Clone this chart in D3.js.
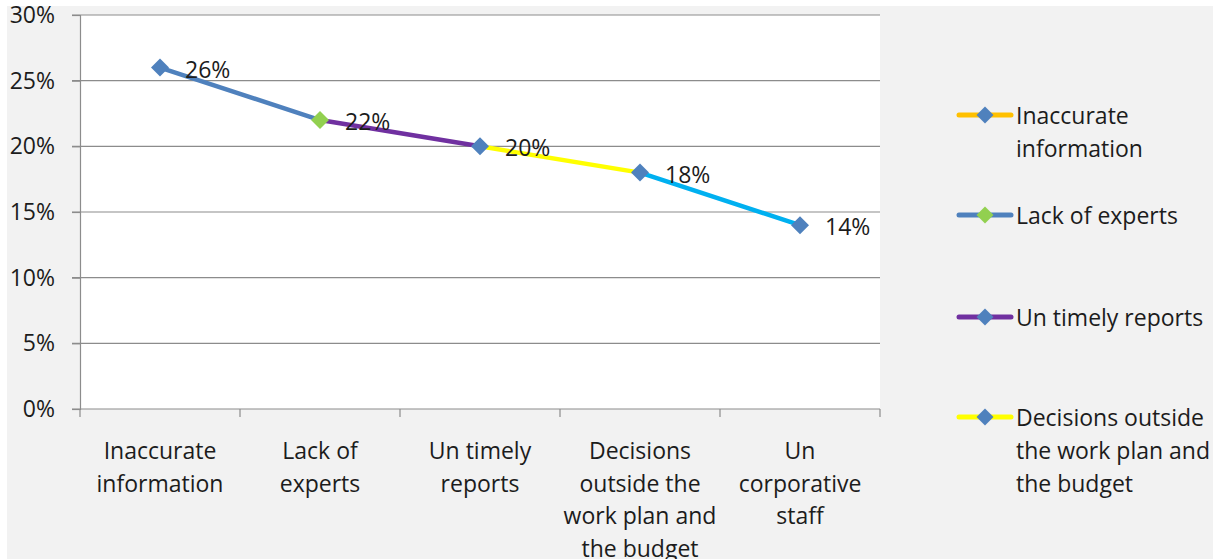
<!DOCTYPE html>
<html>
<head>
<meta charset="utf-8">
<script src="https://cdn.jsdelivr.net/npm/d3@7"></script>
<style>
  html, body { margin: 0; padding: 0; background: #ffffff; }
  svg { display: block; }
  text { font-family: "Open Sans", "Noto Sans", sans-serif; fill: #1c1c1c; }
</style>
</head>
<body>
<svg id="chart" width="1220" height="559"></svg>
<script>
// Problem categories (line breaks mark where the axis label wraps)
const categories = [
  "Inaccurate\ninformation",
  "Lack of\nexperts",
  "Un timely\nreports",
  "Decisions\noutside the\nwork plan and\nthe budget",
  "Un\ncorporative\nstaff"
];
// Share of respondents per problem
const values = [0.26, 0.22, 0.20, 0.18, 0.14];
// Colour of the line segment that starts at each point
const segmentColors = ["#4f81bd", "#7030a0", "#ffff00", "#00b0f0"];
// Marker fill per point
const markerColors = ["#4f81bd", "#92d050", "#4f81bd", "#4f81bd", "#4f81bd"];
// Y axis ticks
const yTicks = [0, 0.05, 0.10, 0.15, 0.20, 0.25, 0.30];

// Legend entries
const legendLabels = [
  "Inaccurate\ninformation",
  "Lack of experts",
  "Un timely reports",
  "Decisions outside\nthe work plan and\nthe budget"
];
const legendLineColors = ["#ffc000", "#4f81bd", "#7030a0", "#ffff00"];
const legendMarkerColors = ["#4f81bd", "#92d050", "#4f81bd", "#4f81bd"];

const FS = 23;
const svg = d3.select("#chart");

// Chart background panel
svg.append("rect").attr("x", 7).attr("y", 6).attr("width", 1206).attr("height", 553)
  .attr("fill", "#f2f2f2");

const plot = { left: 80, right: 880, top: 15, bottom: 409 };

svg.append("rect")
  .attr("x", plot.left).attr("y", plot.top)
  .attr("width", plot.right - plot.left).attr("height", plot.bottom - plot.top)
  .attr("fill", "#ffffff");

const x = d3.scaleBand().domain(categories).range([plot.left, plot.right]).padding(0);
const y = d3.scaleLinear().domain([0, 0.30]).range([plot.bottom, plot.top]);
const fmt = d3.format(".0%");

// Horizontal gridlines
svg.append("g").selectAll("line").data(yTicks.filter(d => d > 0)).join("line")
  .attr("x1", plot.left - 8).attr("x2", plot.right)
  .attr("y1", d => y(d)).attr("y2", d => y(d))
  .attr("stroke", "#8c8c8c").attr("stroke-width", 1.2);

// Y axis
const yAxis = d3.axisLeft(y).tickValues(yTicks).tickFormat(fmt).tickSize(8);
const yg = svg.append("g").attr("transform", `translate(${plot.left},0)`).call(yAxis);
yg.select(".domain").attr("stroke", "#8c8c8c").attr("stroke-width", 1.2);
yg.selectAll(".tick line").attr("stroke", "#8c8c8c").attr("stroke-width", 1.2);
yg.selectAll(".tick text").attr("font-size", FS).attr("fill", "#1c1c1c")
  .attr("font-family", "Open Sans, sans-serif").attr("x", -25);

// X axis baseline and tick marks at category boundaries
svg.append("line").attr("x1", plot.left - 8).attr("x2", plot.right)
  .attr("y1", plot.bottom).attr("y2", plot.bottom)
  .attr("stroke", "#8c8c8c").attr("stroke-width", 1.2);
const edges = categories.map(c => x(c)).concat([x(categories[categories.length - 1]) + x.bandwidth()]);
svg.append("g").selectAll("line").data(edges).join("line")
  .attr("x1", d => d).attr("x2", d => d)
  .attr("y1", plot.bottom).attr("y2", plot.bottom + 8)
  .attr("stroke", "#8c8c8c").attr("stroke-width", 1.2);

// X axis labels
const cx = c => x(c) + x.bandwidth() / 2;
const xl = svg.append("g").selectAll("text").data(categories).join("text")
  .attr("text-anchor", "middle").attr("font-size", FS)
  .attr("x", d => cx(d)).attr("y", 459);
xl.each(function(d) {
  const t = d3.select(this);
  d.split("\n").forEach((line, i) => {
    t.append("tspan").attr("x", cx(d)).attr("dy", i === 0 ? 0 : 32.5).text(line);
  });
});

// Line segments, each with its own colour
const pts = categories.map((c, i) => ({ c, v: values[i], x: cx(c), y: y(values[i]) }));
svg.append("g").selectAll("line").data(d3.pairs(pts)).join("line")
  .attr("x1", d => d[0].x).attr("y1", d => d[0].y)
  .attr("x2", d => d[1].x).attr("y2", d => d[1].y)
  .attr("stroke", (d, i) => segmentColors[i]).attr("stroke-width", 4.5)
  .attr("stroke-linecap", "round");

// Diamond markers
const diamond = d3.symbol().type(d3.symbolSquare).size(162);
svg.append("g").selectAll("path").data(pts).join("path")
  .attr("d", diamond)
  .attr("transform", d => `translate(${d.x},${d.y}) rotate(45)`)
  .attr("fill", (d, i) => markerColors[i]);

// Value labels
svg.append("g").selectAll("text").data(pts).join("text")
  .attr("x", d => d.x + 25).attr("y", d => d.y + 1)
  .attr("dominant-baseline", "central")
  .attr("font-size", FS)
  .text(d => fmt(d.v));

// Legend
const legendTop = [115, 215, 317, 417];
const lg = svg.append("g").selectAll("g").data(legendLabels).join("g")
  .attr("transform", (d, i) => `translate(0,${legendTop[i]})`);
lg.append("line").attr("x1", 959).attr("x2", 1011).attr("y1", 0).attr("y2", 0)
  .attr("stroke", (d, i) => legendLineColors[i]).attr("stroke-width", 5)
  .attr("stroke-linecap", "round");
lg.append("path").attr("d", d3.symbol().type(d3.symbolSquare).size(144))
  .attr("transform", "translate(985,0) rotate(45)")
  .attr("fill", (d, i) => legendMarkerColors[i]);
lg.append("text").attr("x", 1016).attr("y", 0).attr("dominant-baseline", "central")
  .attr("font-size", FS)
  .each(function(d) {
    const t = d3.select(this);
    d.split("\n").forEach((line, i) => {
      t.append("tspan").attr("x", 1016).attr("dy", i === 0 ? 0 : 33).text(line);
    });
  });
</script>
</body>
</html>
